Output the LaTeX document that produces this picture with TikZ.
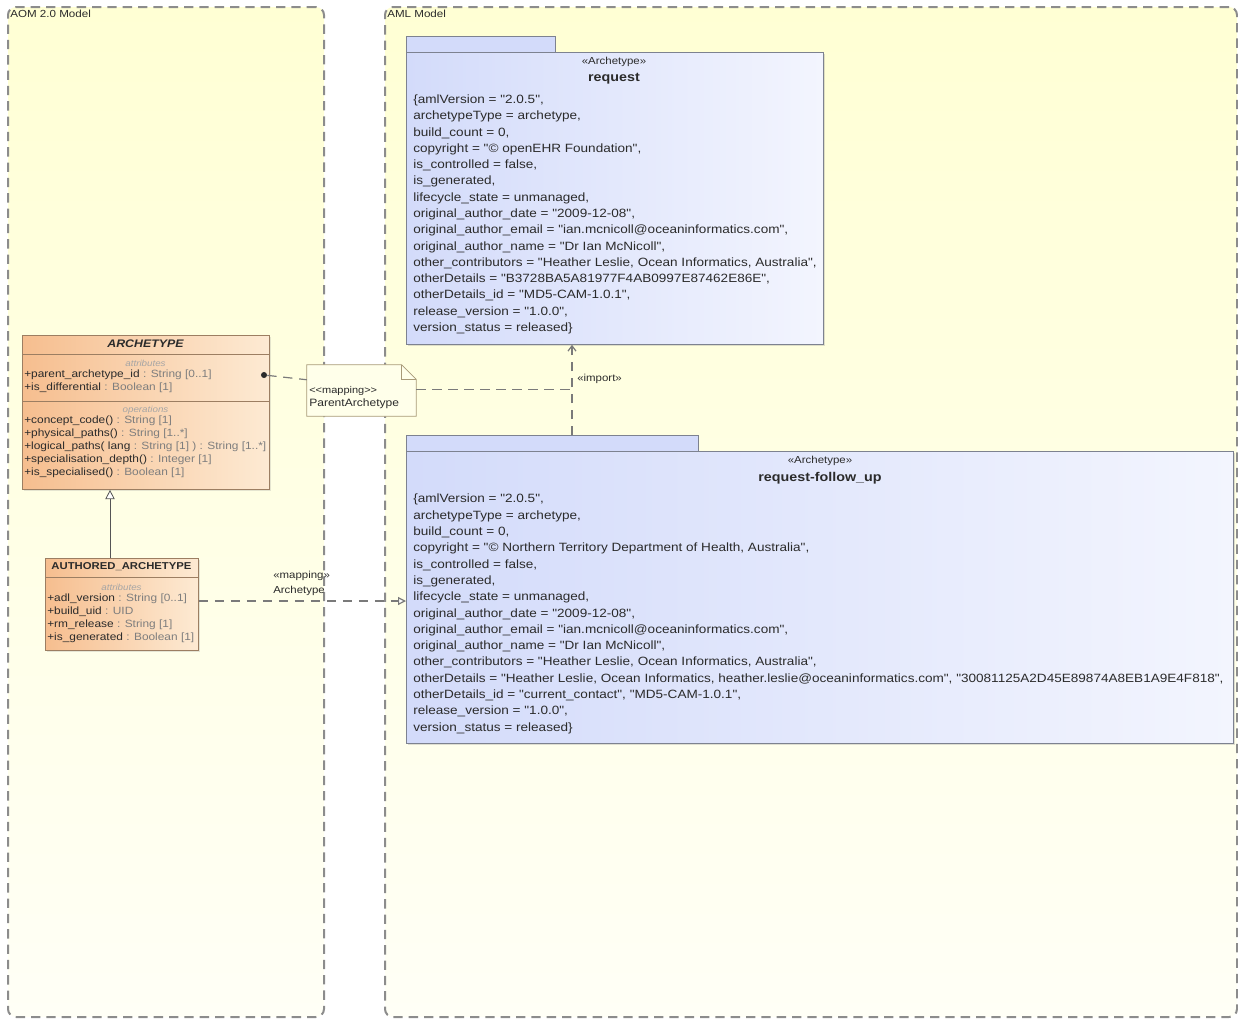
\documentclass[tikz,border=0pt]{standalone}
\usepackage{fontspec}
\newfontfamily\umlfont{Liberation Sans}[FakeStretch=1.13]
\usetikzlibrary{arrows.meta,shadows}

\definecolor{frameline}{HTML}{8C8C8C}
\definecolor{frametop}{HTML}{FFFFD4}
\definecolor{framebot}{HTML}{FFFFF6}
\definecolor{clsleft}{HTML}{F6BE8F}
\definecolor{clsright}{HTML}{FDEAD3}
\definecolor{clsline}{HTML}{9C7E62}
\definecolor{pkgleft}{HTML}{D3DBFA}
\definecolor{pkgright}{HTML}{F3F5FE}
\definecolor{pkgline}{HTML}{7D8290}
\definecolor{notebg}{HTML}{FFFFEA}
\definecolor{noteline}{HTML}{A89A78}
\definecolor{ink}{HTML}{2B2B2B}
\definecolor{typeink}{HTML}{7E7E7E}
\definecolor{linkgray}{HTML}{7A7A7A}

\newcommand{\typ}[1]{\textcolor{typeink}{#1}}

\tikzset{
  modelframe/.style={draw=frameline, line width=1.5pt, dash pattern=on 7pt off 4.5pt,
    rounded corners=6pt, top color=frametop, bottom color=framebot, anchor=north west, inner sep=0pt},
  framelabel/.style={anchor=west, inner sep=0pt, text=ink, font=\umlfont\fontsize{7.7}{8}\selectfont},
  classbox/.style={draw=clsline, line width=0.6pt, left color=clsleft, right color=clsright,
    anchor=north west, inner sep=0pt, drop shadow={opacity=0.2, shadow xshift=1pt, shadow yshift=-1pt}},
  clshead/.style={inner sep=0pt, text=ink, font=\umlfont\bfseries\fontsize{8.2}{9}\selectfont},
  compname/.style={inner sep=0pt, text=typeink!70, font=\umlfont\itshape\fontsize{6.5}{7}\selectfont},
  members/.style={anchor=north west, inner sep=0pt, align=left, text=ink, font=\umlfont\fontsize{7.9}{9.75}\selectfont},
  sepline/.style={draw=clsline, line width=0.6pt},
  pkgbody/.style={draw=pkgline, line width=0.6pt, left color=pkgleft, right color=pkgright,
    anchor=north west, inner sep=0pt, drop shadow={opacity=0.25, shadow xshift=1.2pt, shadow yshift=-1.2pt}},
  pkgtab/.style={draw=pkgline, line width=0.6pt, fill=pkgleft, anchor=north west, inner sep=0pt},
  stereo/.style={inner sep=0pt, text=ink, font=\umlfont\fontsize{7.6}{8}\selectfont},
  pkgname/.style={inner sep=0pt, text=ink, font=\umlfont\bfseries\fontsize{9.5}{11}\selectfont},
  tagvalues/.style={anchor=north west, inner sep=0pt, align=left, text=ink, font=\umlfont\fontsize{9}{12.22}\selectfont},
  notebox/.style={draw=none, inner sep=0pt},
  notetext/.style={anchor=west, inner sep=0pt, text=ink, font=\umlfont\fontsize{8}{9}\selectfont},
  dep/.style={draw=linkgray, line width=0.9pt, dash pattern=on 7pt off 5pt},
}

\begin{document}
\begin{tikzpicture}[x=0.75pt,y=-0.75pt]
\useasboundingbox (0,0) rectangle (1238,1018);
%% model frames
\node[modelframe, minimum width=316*0.75pt, minimum height=1010*0.75pt] (aom) at (7,6) {};
\node[modelframe, minimum width=852*0.75pt, minimum height=1010*0.75pt] (aml) at (384,6) {};
\node[framelabel] (aomlabel) at (10,14) {AOM 2.0 Model};
\node[framelabel] (amllabel) at (387,14) {AML Model};

%% ARCHETYPE class
\node[classbox, minimum width=247*0.75pt, minimum height=154*0.75pt] (archetype) at (22,335) {};
\node[clshead] (archname) at (145.5,344) {\itshape ARCHETYPE};
\draw[sepline] (archetype.west |- 0,354) -- (archetype.east |- 0,354);
\node[compname] (archattrlabel) at (145.5,363) {attributes};
\node[members] (archattrs) at (24,369.5) {+parent\_archetype\_id \typ{: String [0..1]}\\
  +is\_differential \typ{: Boolean [1]}};
\draw[sepline] (archetype.west |- 0,401) -- (archetype.east |- 0,401);
\node[compname] (archoplabel) at (145.5,410) {operations};
\node[members] (archops) at (24,415.5) {+concept\_code() \typ{: String [1]}\\
  +physical\_paths() \typ{: String [1..*]}\\
  +logical\_paths( lang \typ{: String [1] ) : String [1..*]}\\
  +specialisation\_depth() \typ{: Integer [1]}\\
  +is\_specialised() \typ{: Boolean [1]}};

%% AUTHORED_ARCHETYPE class
\node[classbox, minimum width=153*0.75pt, minimum height=92*0.75pt] (authored) at (45,558) {};
\node[clshead, font=\umlfont\bfseries\fontsize{7.5}{9}\selectfont] (authname) at (121.5,567) {AUTHORED\_ARCHETYPE};
\draw[sepline] (authored.west |- 0,577) -- (authored.east |- 0,577);
\node[compname] (authattrlabel) at (121.5,587) {attributes};
\node[members] (authattrs) at (47,593.5) {+adl\_version \typ{: String [0..1]}\\
  +build\_uid \typ{: UID}\\
  +rm\_release \typ{: String [1]}\\
  +is\_generated \typ{: Boolean [1]}};

%% generalization
\coordinate (genx) at (110,0);
\draw[draw=ink!80, line width=0.6pt, -{Triangle[open, fill=white, length=7pt, width=7pt]}]
  (authored.north -| genx) -- (archetype.south -| genx);

%% request package
\node[pkgtab, minimum width=149*0.75pt, minimum height=16*0.75pt] (reqtab) at (406,36) {};
\node[pkgbody, minimum width=417*0.75pt, minimum height=292*0.75pt] (request) at (406,52) {};
\node[stereo] (reqstereo) at (614,62) {«Archetype»};
\node[pkgname] (reqname) at (614,79) {request};
\node[tagvalues] (reqtags) at (413,94.5) {\{amlVersion = "2.0.5",\\
  archetypeType = archetype,\\
  build\_count = 0,\\
  copyright = "© openEHR Foundation",\\
  is\_controlled = false,\\
  is\_generated,\\
  lifecycle\_state = unmanaged,\\
  original\_author\_date = "2009-12-08",\\
  original\_author\_email = "ian.mcnicoll@oceaninformatics.com",\\
  original\_author\_name = "Dr Ian McNicoll",\\
  other\_contributors = "Heather Leslie, Ocean Informatics, Australia",\\
  otherDetails = "B3728BA5A81977F4AB0997E87462E86E",\\
  otherDetails\_id = "MD5-CAM-1.0.1",\\
  release\_version = "1.0.0",\\
  version\_status = released\}};

%% request-follow_up package
\node[pkgtab, minimum width=292*0.75pt, minimum height=16*0.75pt] (followtab) at (406,435) {};
\node[pkgbody, minimum width=827*0.75pt, minimum height=292*0.75pt] (follow) at (406,451) {};
\node[stereo] (followstereo) at (820,461) {«Archetype»};
\node[pkgname] (followname) at (820,478) {request-follow\_up};
\node[tagvalues] (followtags) at (413,494) {\{amlVersion = "2.0.5",\\
  archetypeType = archetype,\\
  build\_count = 0,\\
  copyright = "© Northern Territory Department of Health, Australia",\\
  is\_controlled = false,\\
  is\_generated,\\
  lifecycle\_state = unmanaged,\\
  original\_author\_date = "2009-12-08",\\
  original\_author\_email = "ian.mcnicoll@oceaninformatics.com",\\
  original\_author\_name = "Dr Ian McNicoll",\\
  other\_contributors = "Heather Leslie, Ocean Informatics, Australia",\\
  otherDetails = "Heather Leslie, Ocean Informatics, heather.leslie@oceaninformatics.com", "30081125A2D45E89874A8EB1A9E4F818",\\
  otherDetails\_id = "current\_contact", "MD5-CAM-1.0.1",\\
  release\_version = "1.0.0",\\
  version\_status = released\}};

%% import dependency
\coordinate (impx) at (572,0);
\draw[dep, -{Straight Barb[length=4pt, width=6pt]}] (followtab.north -| impx) -- (request.south -| impx);
\node[stereo, anchor=west] (implabel) at (577,379) {«import»};

%% mapping note
\node[notebox, minimum width=109*0.75pt, minimum height=51*0.75pt] (mapnote) at (361.5,390.5) {};
\draw[draw=noteline, fill=notebg, line width=0.6pt] (mapnote.south west) -- (mapnote.north west)
  -- ([xshift=-11pt]mapnote.north east) -- ([yshift=-11pt]mapnote.north east) -- (mapnote.south east) -- cycle;
\draw[draw=noteline, line width=0.6pt] ([xshift=-11pt]mapnote.north east) -- ([xshift=-11pt, yshift=-11pt]mapnote.north east)
  -- ([yshift=-11pt]mapnote.north east);
\node[notetext, font=\umlfont\fontsize{7.3}{8}\selectfont] (notestereo) at (309,391) {<<mapping>>};
\node[notetext] (notename) at (309,404) {ParentArchetype};
\node[circle, fill=ink, inner sep=1.6pt] (ownerdot) at (264,375) {};
\draw[dep] (ownerdot) -- ([yshift=-15*0.75pt]mapnote.north west);
\draw[dep] ([yshift=1pt]mapnote.east) -- ([yshift=1pt]mapnote.east -| impx);

%% Archetype mapping
\coordinate (mapy) at (0,601);
\draw[dep, -{Triangle[open, fill=white, length=6pt, width=6pt]}] (authored.east |- mapy) -- (follow.west |- mapy);
\node[stereo, anchor=west] (maplabel) at (273,576) {«mapping»};
\node[stereo, anchor=west] (mapname) at (273,591) {Archetype};
\end{tikzpicture}
\end{document}
